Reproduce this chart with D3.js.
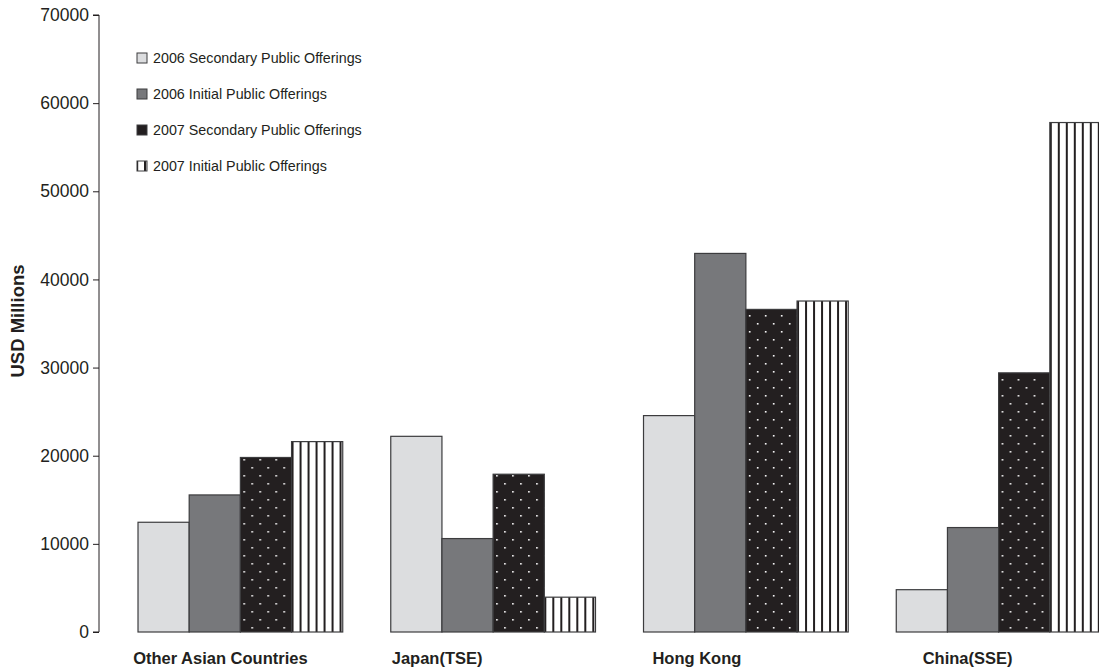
<!DOCTYPE html>
<html>
<head>
<meta charset="utf-8">
<script src="https://cdn.jsdelivr.net/npm/d3@7"></script>
<style>
  body { margin: 0; background: #fff; }
  text { font-family: "Liberation Sans", Arial, sans-serif; fill: #231f20; }
</style>
</head>
<body>
<div id="chart"></div>
<script>
// data
var categories = ["Other Asian Countries", "Japan(TSE)", "Hong Kong", "China(SSE)"];
var seriesNames = ["2006 Secondary Public Offerings", "2006 Initial Public Offerings",
                   "2007 Secondary Public Offerings", "2007 Initial Public Offerings"];
var spo2006 = [12450, 22200, 24550, 4800];
var ipo2006 = [15550, 10600, 42950, 11850];
var spo2007 = [19800, 17900, 36600, 29400];
var ipo2007 = [21600, 3950, 37550, 57800];
var yTicks = [0, 10000, 20000, 30000, 40000, 50000, 60000, 70000];

var seriesValues = [spo2006, ipo2006, spo2007, ipo2007];
var labelShift = [-20, -56, -49, -31];

var width = 1099, height = 669;
var svg = d3.select("#chart").append("svg")
    .attr("width", width)
    .attr("height", height);

var y = d3.scaleLinear().domain([0, 70000]).range([632, 15]);
var x0 = d3.scaleBand().domain(categories).range([114, 1125])
    .paddingInner(0.19).paddingOuter(0.095);
var x1 = d3.scaleBand().domain(d3.range(4)).range([0, x0.bandwidth()]);

var fills = ["#dcdddf", "#77787b", "#231f20", "#fff"];

var rows = [];
categories.forEach(function(c, i) {
  seriesValues.forEach(function(s, j) {
    rows.push({cat: c, s: j, v: s[i], id: i + "_" + j});
  });
});

var defs = svg.append("defs");
// one pattern per bar so that it lines up with the bar's left edge
rows.forEach(function(d) {
  var bx = x0(d.cat) + x1(d.s);
  if (d.s == 2) {
    var p = defs.append("pattern").attr("id", "p" + d.id)
      .attr("patternUnits", "userSpaceOnUse")
      .attr("x", bx).attr("y", 632).attr("width", 16).attr("height", 16);
    p.append("rect").attr("width", 16).attr("height", 16).attr("fill", "#231f20");
    p.append("rect").attr("x", 3).attr("y", 3).attr("width", 1.6).attr("height", 1.6).attr("fill", "#fff");
    p.append("rect").attr("x", 11).attr("y", 11).attr("width", 1.6).attr("height", 1.6).attr("fill", "#fff");
  }
  if (d.s == 3) {
    var p = defs.append("pattern").attr("id", "p" + d.id)
      .attr("patternUnits", "userSpaceOnUse")
      .attr("x", bx).attr("y", 0).attr("width", 8).attr("height", 8);
    p.append("rect").attr("width", 8).attr("height", 8).attr("fill", "#fff");
    p.append("rect").attr("x", 0).attr("width", 2).attr("height", 8).attr("fill", "#231f20");
  }
});

svg.append("g").selectAll("rect")
  .data(rows)
  .enter()
  .append("rect")
    .attr("x", function(d) { return x0(d.cat) + x1(d.s); })
    .attr("y", function(d) { return y(d.v); })
    .attr("width", x1.bandwidth())
    .attr("height", function(d) { return y(0) - y(d.v); })
    .attr("fill", function(d) { return d.s >= 2 ? "url(#p" + d.id + ")" : fills[d.s]; })
    .attr("stroke", "#3c3c3e")
    .attr("stroke-width", 1.2);

// y axis
var yAxis = svg.append("g")
    .attr("transform", "translate(99,0)")
    .call(d3.axisLeft(y).tickValues(yTicks).tickFormat(d3.format("d")).tickSize(6).tickPadding(4));
yAxis.selectAll("path, line").attr("stroke", "#231f20");
yAxis.select(".domain").attr("d", "M-6," + y(70000) + "H0V" + y(0) + "H-6");
yAxis.selectAll("text").style("font-size", "17.5px")
    .style("font-family", "Liberation Sans, Arial, sans-serif").attr("fill", "#231f20");

svg.append("text")
    .attr("transform", "translate(24,321) rotate(-90)")
    .attr("text-anchor", "middle")
    .style("font-size", "18.5px")
    .style("font-weight", "bold")
    .text("USD Millions");

// category labels
svg.selectAll(".cat")
  .data(categories)
  .enter()
  .append("text")
    .attr("class", "cat")
    .attr("x", function(d, i) { return x0(d) + x0.bandwidth() / 2 + labelShift[i]; })
    .attr("y", 664)
    .attr("text-anchor", "middle")
    .style("font-size", "16.5px")
    .style("font-weight", "bold")
    .text(function(d) { return d; });

// legend
var lp = defs.append("pattern").attr("id", "legStripe")
  .attr("patternUnits", "userSpaceOnUse").attr("x", 140).attr("y", 0)
  .attr("width", 8).attr("height", 8);
lp.append("rect").attr("width", 8).attr("height", 8).attr("fill", "#fff");
lp.append("rect").attr("x", 3).attr("width", 2.2).attr("height", 8).attr("fill", "#231f20");

var legend = svg.selectAll(".leg")
  .data(seriesNames)
  .enter()
  .append("g")
    .attr("class", "leg")
    .attr("transform", function(d, i) { return "translate(137," + (58 + i * 36) + ")"; });
legend.append("rect")
    .attr("x", 0).attr("y", -5).attr("width", 10).attr("height", 10)
    .attr("fill", function(d, i) { return i == 3 ? "url(#legStripe)" : fills[i]; })
    .attr("stroke", "#3c3c3e").attr("stroke-width", 1);
legend.append("text")
    .attr("x", 16).attr("y", 5)
    .style("font-size", "14.3px")
    .text(function(d) { return d; });
</script>
</body>
</html>
